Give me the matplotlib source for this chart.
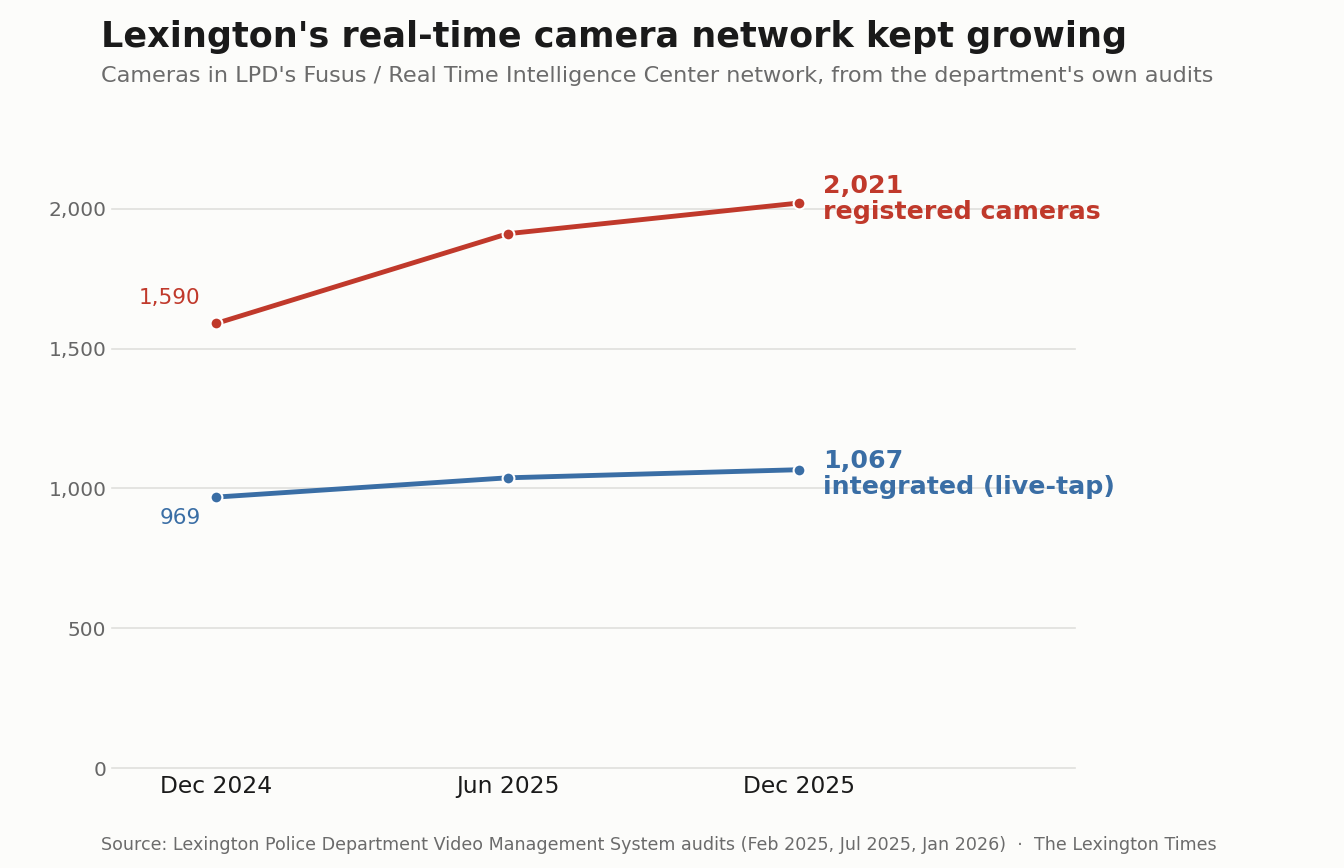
import numpy as np
import matplotlib.pyplot as plt

# data
periods = ['Dec 2024', 'Jun 2025', 'Dec 2025']
registered = [1590, 1911, 2021]
integrated = [969, 1038, 1067]
yticks = [0, 500, 1000, 1500, 2000]

red = '#c0392b'
blue = '#3a6ea5'
bg = '#fcfcfa'

fig = plt.figure(figsize=(13.44, 8.68), dpi=100, facecolor=bg)
ax = fig.add_axes([0.0833, 0.1152, 0.7167, 0.7247], facecolor=bg)

x = np.arange(len(periods))
for vals, c in [(registered, red), (integrated, blue)]:
    ax.plot(x, vals, color=c, lw=3.5, marker='o', ms=8.5,
            markeredgecolor='white', markeredgewidth=1.5, zorder=3,
            solid_capstyle='round')

ax.set_xlim(-0.357, 2.947)
ax.set_ylim(0, 2250)
ax.set_yticks(yticks)
ax.set_yticklabels([f'{v:,}' for v in yticks])
ax.set_xticks(x)
ax.set_xticklabels(periods)
ax.grid(axis='y', color='#e0e0dc', lw=1.2)
for gl in ax.get_ygridlines():
    gl.set_clip_on(False)
ax.set_axisbelow(True)
for s in ax.spines.values():
    s.set_visible(False)
ax.tick_params(axis='y', length=0, labelsize=14.5, labelcolor='#666666', pad=4)
ax.tick_params(axis='x', length=0, labelsize=16.8, labelcolor='#1a1a1a', pad=5)

# start labels
ax.annotate(f'{registered[0]:,}', (x[0], registered[0]), xytext=(-11, 18),
            textcoords='offset points', ha='right', va='center',
            color=red, fontsize=15.5)
ax.annotate(f'{integrated[0]:,}', (x[0], integrated[0]), xytext=(-11, -15),
            textcoords='offset points', ha='right', va='center',
            color=blue, fontsize=15.5)

# end labels
ax.annotate(f'{registered[-1]:,}\nregistered cameras', (x[-1], registered[-1]),
            xytext=(17, 3), textcoords='offset points', ha='left', va='center',
            color=red, fontsize=18.2, fontweight='bold', linespacing=1.1,
            annotation_clip=False)
ax.annotate(f'{integrated[-1]:,}\nintegrated (live-tap)', (x[-1], integrated[-1]),
            xytext=(17, -3), textcoords='offset points', ha='left', va='center',
            color=blue, fontsize=18.2, fontweight='bold', linespacing=1.1,
            annotation_clip=False)

fig.text(0.075, 0.957, "Lexington's real-time camera network kept growing",
         fontsize=25.2, fontweight='bold', color='#1a1a1a', va='center')
fig.text(0.075, 0.913, "Cameras in LPD's Fusus / Real Time Intelligence Center network, from the department's own audits",
         fontsize=16.1, color='#6b6b6b', va='center')
fig.text(0.075, 0.026, "Source: Lexington Police Department Video Management System audits (Feb 2025, Jul 2025, Jan 2026)  \u00b7  The Lexington Times",
         fontsize=12.6, color='#6b6b6b', va='center')

fig.savefig('out.png', dpi=100, facecolor=bg)
